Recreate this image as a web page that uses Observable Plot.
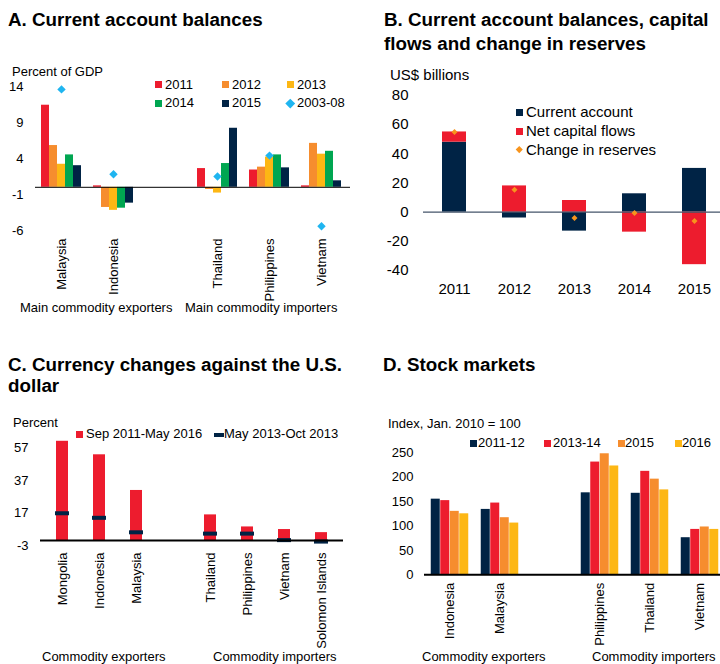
<!DOCTYPE html>
<html><head><meta charset="utf-8">
<script src="https://cdn.jsdelivr.net/npm/d3@7"></script>
<script src="https://cdn.jsdelivr.net/npm/@observablehq/plot@0.6"></script>
<style>
body{margin:0;background:#fff;font-family:"Liberation Sans",Arial,Helvetica,sans-serif;color:#000}
#root{position:relative;width:720px;height:664px;overflow:hidden;background:#fff}
.abs{position:absolute;white-space:nowrap}
.plotbox{position:absolute}
.plotbox svg{overflow:visible}
</style></head><body><div id="root"></div>
<script>
// ---------- Panel A: Current account balances (percent of GDP) ----------
const aCountries = ["Malaysia","Indonesia","Thailand","Philippines","Vietnam"];
const aYears = ["2011","2012","2013","2014","2015"];
const a2011 = [11.4, 0.2, 2.6, 2.4, 0.2];
const a2012 = [5.8, -2.8, -0.3, 2.8, 6.1];
const a2013 = [3.2, -3.2, -0.8, 4.2, 4.6];
const a2014 = [4.5, -2.9, 3.3, 4.5, 5.0];
const a2015 = [3.0, -2.2, 8.2, 2.7, 0.9];
const a2003_08 = [13.6, 1.8, 1.5, 4.4, -5.4];
const aTicks = [-6, -1, 4, 9, 14];

// ---------- Panel B: CA, capital flows, reserves (US$ billions) ----------
const bYears = ["2011","2012","2013","2014","2015"];
const bCurrentAccount = [48, -4, -13, 12.6, 30];
const bNetCapitalFlows = [7, 18, 8, -13.7, -36];
const bChangeReserves = [55, 15.4, -4, -0.5, -6];
const bTicks = [-40, -20, 0, 20, 40, 60, 80];

// ---------- Panel C: Currency changes against the U.S. dollar (percent) ----------
const cCountries = ["Mongolia","Indonesia","Malaysia","Thailand","Philippines","Vietnam","Solomon Islands"];
const cSep2011May2016 = [61, 52.7, 30.8, 15.8, 8.4, 6.8, 4.9];
const cMay2013Oct2013 = [16.8, 14.0, 5.1, 4.3, 4.3, 0.3, -0.6];
const cTicks = [-3, 17, 37, 57];

// ---------- Panel D: Stock markets (index, Jan. 2010 = 100) ----------
const dCountries = ["Indonesia","Malaysia","Philippines","Thailand","Vietnam"];
const dPeriods = ["2011-12","2013-14","2015","2016"];
const d2011_12 = [155, 134, 168, 167, 76];
const d2013_14 = [152, 147, 231, 212, 93];
const d2015 = [130, 117, 248, 196, 98];
const d2016 = [125, 106, 223, 174, 93];
const dTicks = [0, 50, 100, 150, 200, 250];

// ---------- colours ----------
const RED = "#ED1C2E", ORANGE = "#F68D2E", YELLOW = "#FDB714", GREEN = "#00A651", NAVY = "#002345", CYAN = "#1FB5F0", DORANGE = "#F7941D";
const FONT = '"Liberation Sans", Arial, Helvetica, sans-serif';
const GAP = "__gap__";
const fmtCat = d => d === GAP ? "" : d;
const root = document.getElementById("root");

function txt(s, x, baseline, size, extra = {}) {
  const d = document.createElement("div");
  d.className = "abs";
  d.textContent = s;
  d.style.left = x + "px";
  d.style.top = (baseline - 0.8465 * size) + "px";
  d.style.fontSize = size + "px";
  d.style.lineHeight = size + "px";
  Object.assign(d.style, extra);
  root.appendChild(d);
  return d;
}
function box(x, y, w, h, color, extra = {}) {
  const d = document.createElement("div");
  d.className = "abs";
  Object.assign(d.style, {left: x + "px", top: y + "px", width: w + "px", height: h + "px", background: color}, extra);
  root.appendChild(d);
  return d;
}
function diamond(cx, cy, s, color) {
  box(cx - s / 2, cy - s / 2, s, s, color, {transform: "rotate(45deg)"});
}
function place(svg, left, top) {
  const w = document.createElement("div");
  w.className = "plotbox";
  w.style.left = left + "px";
  w.style.top = top + "px";
  w.appendChild(svg);
  root.appendChild(w);
}
const baseStyle = {fontFamily: FONT, color: "#000", background: "transparent", overflow: "visible"};
const title = (s, x, b) => txt(s, x, b, 18.8, {fontWeight: "bold"});

// ================= Panel A =================
{
  const barW = 8, step = 52;
  const pad = 1 - barW / step;
  const series = [a2011, a2012, a2013, a2014, a2015];
  const colors = [RED, ORANGE, YELLOW, GREEN, NAVY];
  const marks = [];
  series.forEach((vals, i) => {
    marks.push(Plot.barY(aCountries.map((c, j) => ({country: c, value: vals[j]})),
      {x: "country", y: "value", fill: colors[i], dx: (i - 2) * barW}));
  });
  marks.push(Plot.ruleY([0], {stroke: "#000", strokeWidth: 1}));
  marks.push(Plot.dot(aCountries.map((c, j) => ({country: c, value: a2003_08[j]})),
    {x: "country", y: "value", symbol: "diamond2", fill: CYAN, stroke: "none", r: 3.8}));
  const svg = Plot.plot({
    width: 360, height: 260, marginLeft: 35, marginRight: 10, marginTop: 26, marginBottom: 90,
    style: {...baseStyle, fontSize: "13px"},
    x: {domain: ["Malaysia", "Indonesia", GAP, "Thailand", "Philippines", "Vietnam"], range: [35, 347],
        paddingInner: pad, paddingOuter: pad / 2, tickRotate: -90, tickSize: 0, tickPadding: 8, tickFormat: fmtCat, label: null},
    y: {domain: [-6, 14], ticks: aTicks, tickSize: 0, tickPadding: 12, tickFormat: d => String(d), label: null},
    marks
  });
  place(svg, 0, 60);
  title("A. Current account balances", 8, 26.7);
  txt("Percent of GDP", 12, 76, 13);
  const lg = [[aYears[0], RED, 155, 81, 165, 89], [aYears[1], ORANGE, 222, 81, 232, 89], [aYears[2], YELLOW, 287, 81, 297, 89],
              [aYears[3], GREEN, 155, 99.5, 165, 107.5], [aYears[4], NAVY, 222, 99.5, 232, 107.5]];
  lg.forEach(([t, c, sx, sy, tx, tb]) => { box(sx, sy, 7, 7, c); txt(t, tx, tb, 13); });
  diamond(290, 103, 6.5, CYAN);
  txt("2003-08", 297, 107.5, 13);
  txt("Main commodity exporters", 20, 312, 13);
  txt("Main commodity importers", 185, 312, 13);
}

// ================= Panel B =================
{
  const rows = [
    ...bYears.map((y, i) => ({year: y, series: "Current account", value: bCurrentAccount[i]})),
    ...bYears.map((y, i) => ({year: y, series: "Net capital flows", value: bNetCapitalFlows[i]}))
  ];
  const res = bYears.map((y, i) => ({year: y, value: bChangeReserves[i]}));
  const svg = Plot.plot({
    width: 360, height: 260, marginLeft: 63, marginRight: 0, marginTop: 35, marginBottom: 50,
    style: {...baseStyle, fontSize: "15px"},
    x: {domain: bYears, range: [64, 364], paddingInner: 0.6, paddingOuter: 0.3, tickSize: 0, tickPadding: 13, label: null},
    y: {domain: [-40, 80], ticks: bTicks, tickSize: 0, tickPadding: 15, tickFormat: d => String(d), label: null},
    color: {domain: ["Current account", "Net capital flows"], range: [NAVY, RED]},
    marks: [
      Plot.barY(rows, {x: "year", y: "value", fill: "series"}),
      Plot.ruleY([0], {stroke: "#44546A", strokeWidth: 1.2}),
      Plot.dot(res, {x: "year", y: "value", symbol: "diamond2", fill: DORANGE, stroke: "none", r: 2.7})
    ]
  });
  place(svg, 360, 60);
  title("B. Current account balances, capital", 384, 27);
  title("flows and change in reserves", 384, 50.5);
  txt("US$ billions", 390, 80, 15);
  box(516, 108.5, 7, 7, NAVY); txt("Current account", 526, 116.7, 15);
  box(516, 127.5, 7, 7, RED); txt("Net capital flows", 526, 135.5, 15);
  diamond(519.5, 149.5, 4.5, DORANGE); txt("Change in reserves", 526, 154.3, 15);
}

// ================= Panel C =================
{
  const step = 303 / 8, barW = 12;
  const pad = 1 - barW / step;
  const rows = cCountries.map((c, i) => ({country: c, sep: cSep2011May2016[i], may: cMay2013Oct2013[i]}));
  const svg = Plot.plot({
    width: 360, height: 250, marginLeft: 40, marginRight: 17, marginTop: 37.3, marginBottom: 115,
    style: {...baseStyle, fontSize: "13px"},
    x: {domain: ["Mongolia", "Indonesia", "Malaysia", GAP, "Thailand", "Philippines", "Vietnam", "Solomon Islands"],
        range: [40, 343], paddingInner: pad, paddingOuter: pad / 2, tickRotate: -90, tickSize: 0, tickPadding: 7, tickFormat: fmtCat, label: null},
    y: {domain: [-3, 57], ticks: cTicks, tickSize: 0, tickPadding: 12, tickFormat: d => String(d), label: null},
    marks: [
      Plot.barY(rows, {x: "country", y: "sep", fill: RED}),
      Plot.tickY(rows, {x: "country", y: "may", stroke: NAVY, strokeWidth: 4, insetLeft: -1, insetRight: -1}),
      Plot.ruleY([0], {stroke: "#000", strokeWidth: 2})
    ]
  });
  place(svg, 0, 410);
  title("C. Currency changes against the U.S.", 8, 372);
  title("dollar", 8, 393);
  txt("Percent", 13, 427, 13);
  box(76, 431, 7, 7, RED); txt("Sep 2011-May 2016", 86, 438.3, 13);
  box(214, 433, 10, 4, NAVY); txt("May 2013-Oct 2013", 224, 438.3, 13);
  txt("Commodity exporters", 42, 661, 13);
  txt("Commodity importers", 213, 661, 13);
}

// ================= Panel D =================
{
  const barW = 9.5, step = 50;
  const pad = 1 - barW / step;
  const series = [d2011_12, d2013_14, d2015, d2016];
  const colors = [NAVY, RED, ORANGE, YELLOW];
  const marks = [];
  series.forEach((vals, i) => {
    marks.push(Plot.barY(dCountries.map((c, j) => ({country: c, value: vals[j]})),
      {x: "country", y: "value", fill: colors[i], dx: (i - 1.5) * barW}));
  });
  marks.push(Plot.ruleY([0], {stroke: "#000", strokeWidth: 2}));
  const svg = Plot.plot({
    width: 360, height: 250, marginLeft: 64, marginRight: 0, marginTop: 42.3, marginBottom: 85.7,
    style: {...baseStyle, fontSize: "13px"},
    x: {domain: ["Indonesia", "Malaysia", GAP, "Philippines", "Thailand", "Vietnam"], range: [65, 365],
        paddingInner: pad, paddingOuter: pad / 2, tickRotate: -90, tickSize: 0, tickPadding: 8, tickFormat: fmtCat, label: null},
    y: {domain: [0, 250], ticks: dTicks, tickSize: 0, tickPadding: 11, tickFormat: d => String(d), label: null},
    marks
  });
  place(svg, 360, 410);
  title("D. Stock markets", 383, 372.3);
  txt("Index, Jan. 2010 = 100", 388, 428.3, 13);
  const lg = [[dPeriods[0], NAVY, 470, 478], [dPeriods[1], RED, 544, 553], [dPeriods[2], ORANGE, 618, 625], [dPeriods[3], YELLOW, 675, 682]];
  lg.forEach(([t, c, sx, tx]) => { box(sx, 439.5, 7, 7, c); txt(t, tx, 446.7, 13); });
  txt("Commodity exporters", 422, 661.5, 13);
  txt("Commodity importers", 592, 661.5, 13);
}
</script>
</body></html>
